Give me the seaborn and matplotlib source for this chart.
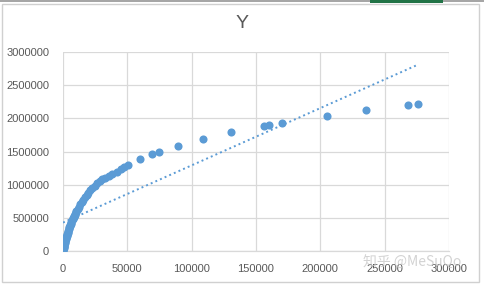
import numpy as np
import pandas as pd
import seaborn as sns
import matplotlib
matplotlib.use("Agg")
import matplotlib.pyplot as plt
from matplotlib.patches import Rectangle

x_vals = [0, 100, 200, 300, 400, 500, 600, 700, 800, 1000, 1200, 1400, 1600,
          1800, 2000, 2300, 2500, 2800, 3000, 3300, 3600, 3800, 4100, 4400,
          4700, 5000, 5300, 5600, 5900, 6300, 6600, 7000, 7400, 7800, 8200,
          8600, 9000, 9500, 9900, 10400, 11400, 12400, 13500,
          14600, 15800, 17000, 18300, 19700, 21200, 22800, 24500, 26500,
          28500, 30500, 32600, 35500, 38300, 41700, 45000, 47600, 50200,
          59800, 69300, 74900, 89500, 108900, 130700, 156000, 160200,
          170300, 205200, 235500, 268100, 275900]
y_vals = [0, 20000, 30000, 40000, 50000, 60000, 70000, 80000, 90000, 100000,
          115000, 130000, 145000, 160000, 175000, 190000, 205000, 220000,
          235000, 255000, 275000, 290000, 305000, 325000, 345000, 360000,
          375000, 390000, 405000, 425000, 440000, 460000, 478000, 495000,
          512000, 530000, 548000, 565000, 583000, 600000, 635000, 670000,
          705000, 740000, 775000, 810000, 845000, 880000, 915000, 950000,
          985000, 1020000, 1055000, 1085000, 1100000, 1135000, 1165000,
          1195000, 1235000, 1265000, 1295000, 1380000, 1465000, 1500000,
          1585000, 1695000, 1795000, 1885000, 1905000, 1930000, 2040000,
          2130000, 2205000, 2220000]
x_ticks = [0, 50000, 100000, 150000, 200000, 250000, 300000]
y_ticks = [0, 500000, 1000000, 1500000, 2000000, 2500000, 3000000]
title = "Y"

df = pd.DataFrame({"x": x_vals, "y": y_vals})

sns.set_theme(style="white")
plt.rcParams['font.family'] = ['Liberation Sans', 'Noto Sans CJK SC', 'DejaVu Sans']

fig = plt.figure(figsize=(4.84, 2.84), dpi=100)
ax = fig.add_axes([63/484, 33/284, 386/484, 199/284])

blue = "#5B9BD5"
grey_txt = "#595959"
grid_c = "#D9D9D9"

# trendline (linear least squares, like Excel)
k, b = np.polyfit(df["x"], df["y"], 1)
tx = np.array([df["x"].min(), df["x"].max()])
sns.lineplot(x=tx, y=k * tx + b, ax=ax, color=blue, lw=1.4,
             linestyle=(0, (1, 1.6)), zorder=2)

sns.scatterplot(data=df, x="x", y="y", ax=ax, color=blue, s=34,
                edgecolor=blue, linewidth=0, zorder=3)

ax.set_xlim(0, 300000)
ax.set_ylim(0, 3000000)
ax.set_xticks(x_ticks)
ax.set_yticks(y_ticks)
ax.set_xticklabels([str(v) for v in x_ticks])
ax.set_yticklabels([str(v) for v in y_ticks])
ax.tick_params(axis="both", length=0, labelsize=8, labelcolor=grey_txt)
ax.tick_params(axis="y", pad=10)
ax.tick_params(axis="x", pad=9)
ax.grid(True, color=grid_c, lw=0.9)
ax.set_axisbelow(True)
for s in ["top", "right", "left"]:
    ax.spines[s].set_visible(False)
ax.spines["bottom"].set_color(grid_c)
ax.spines["bottom"].set_linewidth(0.9)
ax.set_xlabel("")
ax.set_ylabel("")

fig.text(242/484, 1 - 24/284, title, ha="center", va="center",
         fontsize=14, color=grey_txt)

# chart border and spreadsheet top line
fig.patches.append(Rectangle((2/484, 2/284), 477/484, 278/284, transform=fig.transFigure,
                             fill=False, edgecolor="#D0D0D0", lw=1.0))
fig.patches.append(Rectangle((0, 282/284), 1, 2/284, transform=fig.transFigure,
                             facecolor="#A6A6A6", edgecolor="none"))
fig.patches.append(Rectangle((370/484, 281/284), 73/484, 3/284, transform=fig.transFigure,
                             facecolor="#217346", edgecolor="none"))

fig.text(412/484, 1 - 263/284, "知乎 @MeSuQo", ha="center", va="center",
         fontsize=10, color="#C8C8C8", alpha=0.8,
         family=['Noto Sans CJK SC', 'DejaVu Sans'])

fig.savefig("out.png", dpi=100)
